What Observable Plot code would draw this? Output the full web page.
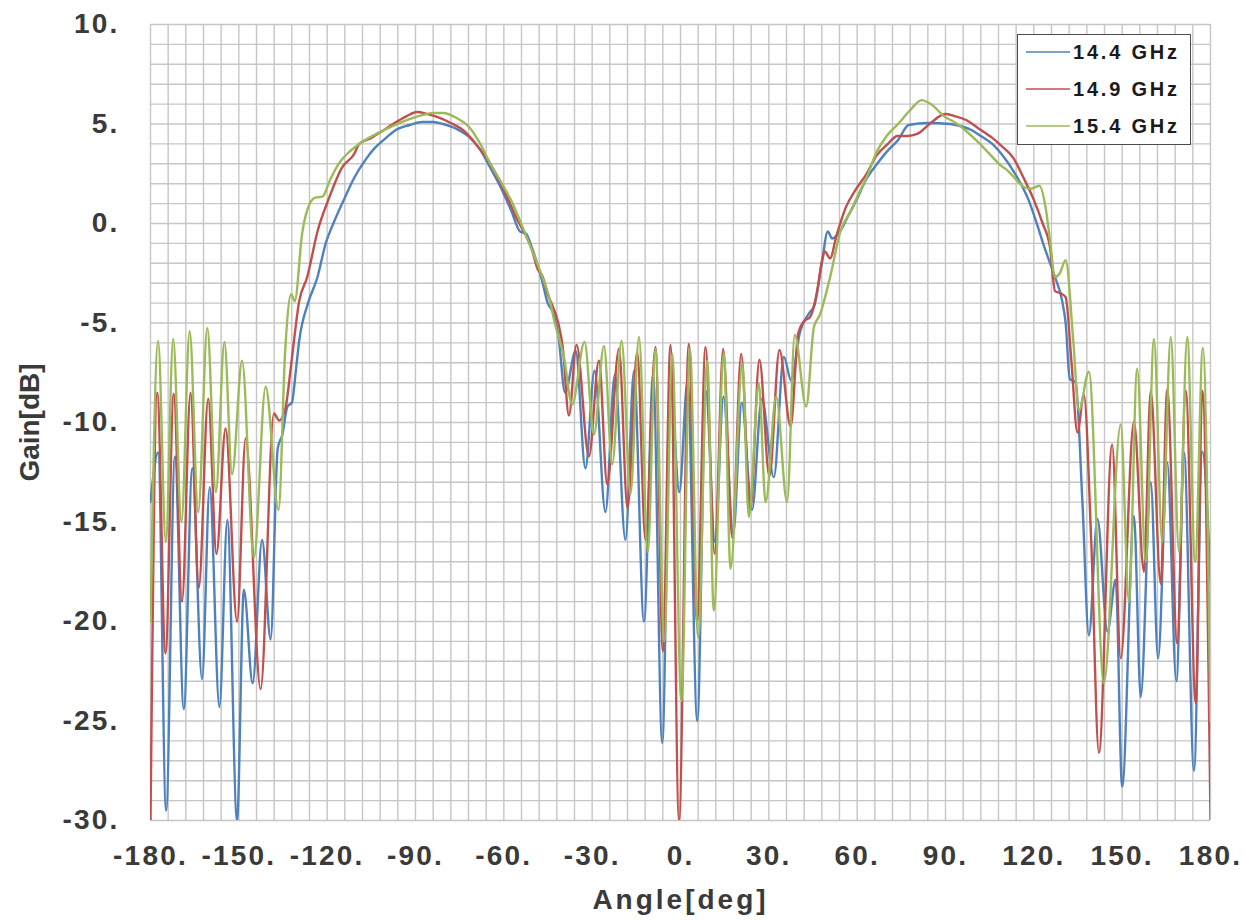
<!DOCTYPE html>
<html><head><meta charset="utf-8">
<script src="https://cdn.jsdelivr.net/npm/d3@7"></script>
<script src="https://cdn.jsdelivr.net/npm/@observablehq/plot@0.6"></script>
<style>
body{margin:0;background:#fff;}
#wrap{position:relative;width:1247px;height:920px;}
#legend{position:absolute;left:1017px;top:34px;width:174px;height:111px;border:1.5px solid #4d4d4d;background:#fff;box-sizing:border-box;font-family:"Liberation Sans",Arial,sans-serif;font-weight:bold;font-size:20px;color:#1a1a1a;}
.row{position:absolute;left:8px;height:24px;display:flex;align-items:center;white-space:nowrap;letter-spacing:2.8px;}
.row svg{margin-right:3px;}
</style></head><body><div id="wrap"><div id="legend"></div></div>
<script>
// ---- data ----
const seriesNames = ["14.4 GHz", "14.9 GHz", "15.4 GHz"];
const seriesColors = ["#4F81BD", "#C0504D", "#9BBB59"];
const xTicks = [-180, -150, -120, -90, -60, -30, 0, 30, 60, 90, 120, 150, 180];
const yTicks = [-30, -25, -20, -15, -10, -5, 0, 5, 10];

// [angle deg, gain dB]
const s144 = [
[-180,-14],[-177.4,-11.5],[-174.7,-29.5],[-171.7,-11.7],[-168.7,-24.4],[-165.8,-12.3],[-162.5,-22.9],[-159.9,-13.25],
[-156.6,-24.3],[-153.9,-14.9],[-150.6,-30],[-148.3,-18.4],[-145.3,-23.1],[-142.1,-15.9],[-139.2,-20.9],[-136.8,-11.3],
[-135.2,-10.6],[-133.5,-9.2],[-132.0,-9.0],[-130.5,-7.2],[-129.5,-5.9],[-126.5,-4.0],[-123.3,-2.7],[-120.5,-1.0],
[-117.9,0],[-114,1.3],[-110.8,2.3],[-107,3.2],[-103.8,3.8],[-100,4.3],[-96.7,4.7],[-92,4.95],[-87.7,5.1],[-84,5.1],
[-80.6,5.0],[-76,4.75],[-71.8,4.35],[-68,3.7],[-64.6,2.8],[-61,1.8],[-57.5,0.65],[-54.5,-0.4],[-52.5,-0.5],[-50.5,-1.2],
[-48.7,-2.0],[-46.8,-3.0],[-45.1,-4.0],[-43.5,-4.4],[-41.5,-5.6],[-39.2,-8.5],[-35.6,-6.4],[-32.3,-12.3],[-29.2,-7.4],
[-25.5,-14.5],[-22.3,-7.6],[-18.7,-15.9],[-15.8,-7.4],[-12.4,-20.0],[-9.3,-7.6],[-6.2,-26.1],[-3.4,-8.0],[-0.4,-13.5],
[2.4,-7.9],[5.7,-25.0],[8.6,-8.4],[11.7,-16.0],[14.6,-8.7],[17.9,-15.6],[20.8,-9.0],[24.3,-14.4],[27.6,-8.8],[31.7,-12.75],
[35.1,-6.7],[37.6,-7.9],[40.5,-5.5],[43.7,-4.5],[45.5,-4.1],[48.0,-2.0],[50.0,-0.4],[51.5,-0.75],[54.4,-0.35],[57,0.4],
[59.7,1.16],[63,2.2],[66.8,3.0],[70,3.6],[73.9,4.2],[77.5,4.95],[84,5.05],[91.7,5.0],[95,4.9],[98.8,4.7],[102,4.4],
[105.9,4.0],[110,3.3],[113,2.65],[118.3,1.15],[121,0],[123.6,-1.2],[127.2,-2.7],[129.5,-3.8],[130.8,-5.0],[132.2,-7.8],
[134.2,-8.0],[136.5,-14],[138.7,-20.7],[141.6,-14.85],[145.0,-20.5],[147.8,-17.9],[150.0,-28.3],[154.0,-14.7],
[156.3,-23.8],[159.7,-13.0],[162.2,-21.85],[165.3,-12.0],[168.4,-23.0],[171.0,-11.5],[174.4,-27.5],[177.2,-11.45],[180,-18]
];
const s149 = [
[-180,-30],[-177.7,-8.5],[-174.9,-21.6],[-172.1,-8.55],[-169.3,-19.0],[-166.4,-8.5],[-163.6,-18.3],[-160.4,-8.8],
[-157.6,-16.6],[-154.5,-10.3],[-150.6,-20.0],[-147.7,-10.8],[-142.6,-23.4],[-138.1,-9.55],[-136.3,-9.9],[-134.2,-9.3],
[-132.0,-6.8],[-129.5,-3.9],[-126.8,-2.7],[-123.2,-0.35],[-119.7,1.15],[-115,2.8],[-110.8,3.5],[-109.1,4.0],[-105,4.3],
[-100.2,4.75],[-93.0,5.4],[-89.5,5.6],[-86,5.5],[-82.4,5.35],[-78,5.05],[-73.5,4.65],[-69,3.9],[-64.6,3.0],[-60,1.7],
[-55.8,0.3],[-50.4,-1.35],[-48.5,-2.3],[-47,-2.6],[-45,-3.6],[-43.3,-4.2],[-41.5,-5.0],[-40,-6.2],[-37.9,-9.65],
[-35.3,-6.1],[-31.1,-11.7],[-27.7,-6.9],[-24.9,-13.1],[-20.9,-6.3],[-18.0,-14.3],[-14.7,-6.45],[-11.9,-15.9],[-8.5,-6.2],
[-6.0,-21.5],[-3.4,-6.1],[-0.5,-30],[2.8,-6.05],[5.6,-20.0],[8.5,-6.2],[11.6,-16.6],[14.5,-6.3],[17.6,-15.8],[20.6,-6.55],
[23.7,-14.4],[26.8,-6.85],[30.2,-12.7],[33.6,-6.35],[37.4,-10.2],[40.0,-5.5],[42.0,-4.9],[44.0,-4.7],[46.4,-3.4],
[48.0,-1.9],[49.0,-1.4],[50.8,-1.75],[53.0,-0.6],[56.1,0.8],[59.5,1.7],[63.2,2.5],[66.5,3.4],[70.4,4.0],[73.7,4.4],
[77,4.4],[80.4,4.5],[84.6,5.0],[89.9,5.5],[93,5.4],[97.0,5.2],[101,4.8],[105.9,4.3],[109,3.9],[113,3.3],[116.5,2.3],
[120.1,1.15],[123,0.0],[125.5,-1.2],[127.2,-3.4],[129,-3.5],[130.8,-3.7],[132.8,-7.0],[134.8,-10.5],[137.0,-8.6],
[139.5,-16],[142.1,-26.6],[146.6,-11.1],[149.5,-21.85],[154.0,-9.95],[157.4,-17.5],[159.7,-8.4],[163.1,-18.1],
[165.3,-8.35],[168.7,-21.1],[171.6,-8.4],[175.0,-24.1],[177.2,-8.4],[180,-30]
];
const s154 = [
[-180,-20],[-177.4,-5.9],[-174.8,-16],[-172.3,-5.8],[-169.5,-15],[-166.7,-5.4],[-163.8,-14.5],[-160.7,-5.25],
[-157.8,-13.5],[-154.9,-5.95],[-152.3,-12.6],[-148.9,-6.9],[-144.9,-16.8],[-140.9,-8.2],[-136.5,-14.4],[-134.3,-6.5],
[-132.2,-3.55],[-131.0,-3.9],[-128.5,-0.5],[-125.9,1.0],[-124.0,1.3],[-121.6,1.35],[-119,2.2],[-116.1,3.0],[-112.5,3.6],
[-109.1,4.0],[-104,4.45],[-98.4,4.85],[-93,5.2],[-87.7,5.45],[-84,5.55],[-80.6,5.55],[-76,5.3],[-71.8,4.85],[-68,4.0],
[-64.6,3.0],[-61,2.1],[-57.5,1.15],[-52.2,-0.7],[-46.9,-2.7],[-44.8,-3.6],[-42.7,-5.0],[-39.6,-6.7],[-36.8,-9.1],
[-32.6,-5.95],[-29.4,-10.6],[-26.0,-6.15],[-23.2,-12.1],[-20.0,-5.9],[-17.0,-13.6],[-14.1,-5.7],[-11.1,-16.5],[-8.5,-6.3],
[-5.5,-21],[-2.8,-6.55],[0.3,-24],[3.2,-6.3],[6.0,-20.8],[9.1,-6.9],[11.3,-19.45],[14.7,-6.55],[17.0,-17.35],[21.0,-7.05],
[23.2,-14.75],[26.6,-8.05],[28.9,-14.0],[32.5,-8.7],[36.2,-14.0],[38.8,-5.6],[42.7,-9.2],[45.3,-5.2],[47.3,-4.6],
[50.8,-2.7],[54.4,-0.35],[57.9,0.65],[60.5,1.5],[63.3,2.35],[66.8,3.65],[70,4.4],[73.9,5.0],[78,5.7],[81.9,6.2],[85,6.0],
[89.9,5.35],[93,5.1],[97,4.65],[101,4.1],[105.9,3.35],[108.5,2.95],[111.2,2.65],[114,2.2],[116.5,1.85],[119,1.75],
[121.9,1.9],[124,0.8],[125.5,-0.85],[127.2,-2.7],[128.8,-2.5],[130.8,-1.85],[133.4,-5.9],[135.3,-9.4],[138.7,-7.45],
[143.8,-23.1],[149.5,-10.1],[152.3,-19],[155.1,-7.3],[158,-17],[160.8,-5.8],[163.6,-16],[166.5,-5.7],[169.3,-16.5],
[172.1,-5.7],[174.8,-17],[177.4,-6.25],[180,-25]
];

// ---- build table ----
const rows = [];
[s144, s149, s154].forEach((s, i) => s.forEach(([a, g]) => rows.push({angle: a, gain: g, series: seriesNames[i]})));

const xGrid = d3.range(-180, 181, 6);
const yGrid = d3.range(-30, 11, 1);
const font = '"Liberation Sans", Arial, sans-serif';

const chart = Plot.plot({
  width: 1247, height: 920,
  marginLeft: 150, marginRight: 37, marginTop: 24, marginBottom: 100,
  style: {fontFamily: font, fontWeight: "bold", background: "#fff", letterSpacing: "2.2px"},
  x: {domain: [-180, 180], axis: null},
  y: {domain: [-30, 10], axis: null},
  color: {domain: seriesNames, range: seriesColors},
  marks: [
    Plot.gridX(xGrid, {stroke: "#c6c6c6", strokeOpacity: 1, strokeWidth: 1.4}),
    Plot.gridY(yGrid, {stroke: "#c6c6c6", strokeOpacity: 1, strokeWidth: 1.4}),
    Plot.axisX({ticks: xTicks, tickSize: 0, tickPadding: 25, tickFormat: d => `${d}.`, fontSize: 28, fill: "#3a3a3a", label: null}),
    Plot.axisY({ticks: yTicks, tickSize: 0, tickPadding: 31, tickFormat: d => `${d}.`, fontSize: 28, fill: "#3a3a3a", label: null}),
    Plot.line(rows, {x: "angle", y: "gain", stroke: "series", z: "series", strokeWidth: 2.4, curve: "monotone-x", clip: true}),
    Plot.text(["Angle[deg]"], {frameAnchor: "bottom", dy: 80, fontSize: 28, fill: "#3a3a3a", lineAnchor: "middle", textAnchor: "middle"}),
    Plot.text(["Gain[dB]"], {frameAnchor: "left", dx: -120, rotate: -90, fontSize: 28, fill: "#3a3a3a", lineAnchor: "middle", textAnchor: "middle"})
  ]
});
d3.select(chart).selectAll("text").filter(function(){ return this.textContent === "Gain[dB]"; }).style("letter-spacing", "0px");
d3.select(chart).selectAll("text").filter(function(){ return this.textContent === "Angle[deg]"; }).style("letter-spacing", "3px");
const wrap = document.getElementById("wrap");
wrap.insertBefore(chart, wrap.firstChild);

// ---- legend ----
const legend = document.getElementById("legend");
seriesNames.forEach((name, i) => {
  const r = document.createElement("div");
  r.className = "row";
  r.style.top = (5 + i * 37) + "px";
  r.innerHTML = `<svg width="44" height="4"><line x1="0" y1="2" x2="44" y2="2" stroke="${seriesColors[i]}" stroke-width="1.6"/></svg><span>${name}</span>`;
  legend.appendChild(r);
});
</script></body></html>
